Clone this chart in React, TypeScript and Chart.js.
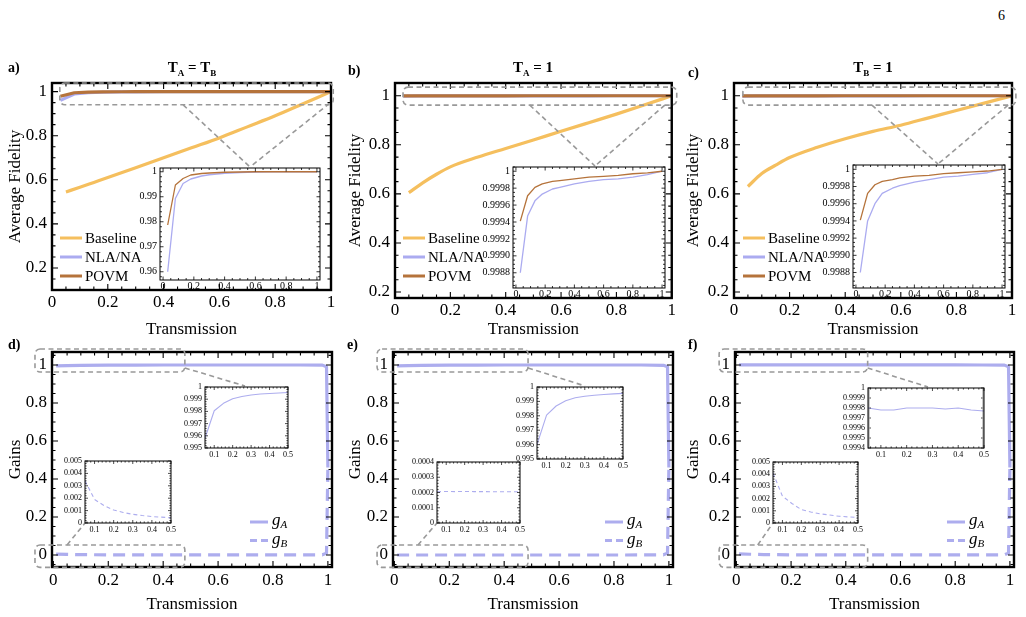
import React, { useEffect, useRef } from "react";
import { Chart, registerables } from "chart.js";
Chart.register(...registerables);

const SERIF = "'Liberation Serif', 'Times New Roman', serif";

// ---------------- DATA ----------------
// top row: baseline fidelity
const T_BASE = [0.05, 0.1, 0.15, 0.2, 0.3, 0.4, 0.5, 0.6, 0.7, 0.8, 0.9, 1.0];
const BASE_A = [0.545, 0.566, 0.588, 0.61, 0.655, 0.7, 0.745, 0.79, 0.84, 0.89, 0.945, 1.0];
const BASE_B = [0.605, 0.645, 0.68, 0.71, 0.75, 0.785, 0.82, 0.855, 0.89, 0.925, 0.962, 1.0];
const BASE_C = [0.63, 0.683, 0.717, 0.748, 0.79, 0.825, 0.855, 0.88, 0.91, 0.94, 0.97, 1.0];
// top row: protocols
const T_PROT = [0.03, 0.08, 0.13, 0.18, 0.25, 0.3, 0.4, 0.5, 0.6, 0.7, 0.8, 0.9, 1.0];
const NLA_A = [0.96, 0.9893, 0.9953, 0.9971, 0.9983, 0.9988, 0.9994, 0.9997, 0.9999, 1.0, 1.0, 1.0, 1.0];
const POVM_A = [0.9787, 0.9947, 0.9973, 0.9987, 0.9993, 0.9995, 0.9998, 0.9999, 1.0, 1.0, 1.0, 1.0, 1.0];
const NLA_B = [0.9988, 0.99947, 0.99965, 0.99973, 0.99979, 0.99981, 0.99985, 0.99988, 0.9999, 0.99991, 0.99993, 0.99996, 1.0];
const POVM_B = [0.99941, 0.99971, 0.99981, 0.99985, 0.99988, 0.99989, 0.99991, 0.99993, 0.99994, 0.99995, 0.99997, 0.99998, 1.0];
const NLA_C = [0.9988, 0.9994, 0.9996, 0.99972, 0.99978, 0.99981, 0.99985, 0.99988, 0.99991, 0.99992, 0.99994, 0.99996, 1.0];
const POVM_C = [0.99941, 0.99972, 0.99982, 0.99986, 0.99988, 0.9999, 0.99992, 0.99993, 0.99995, 0.99996, 0.99997, 0.99998, 1.0];
// bottom row: gains
const T_GAIN = [0.01, 0.05, 0.1, 0.2, 0.3, 0.4, 0.5, 0.6, 0.7, 0.8, 0.9, 0.98, 0.995, 1.0];
const GA_D = [0.995, 0.9962, 0.998, 0.999, 0.9993, 0.9995, 0.9996, 0.9996, 0.9997, 0.9997, 0.9996, 0.999, 0.99, 0.46];
const GB_D = [0.005, 0.0034, 0.0019, 0.0011, 0.0007, 0.0005, 0.0004, 0.0004, 0.0003, 0.0003, 0.0004, 0.001, 0.01, 0.46];
const GA_E = [0.995, 0.9962, 0.998, 0.999, 0.9993, 0.9995, 0.9996, 0.9996, 0.9997, 0.9997, 0.9996, 0.998, 0.99, 0.46];
const GB_E = [0.0002, 0.0002, 0.0002, 0.0002, 0.0002, 0.0002, 0.0002, 0.0002, 0.0002, 0.0002, 0.0003, 0.001, 0.01, 0.46];
const GA_F = [0.9998, 0.9998, 0.9998, 0.9998, 0.9998, 0.9998, 0.9998, 0.9998, 0.9998, 0.9998, 0.9997, 0.999, 0.99, 0.46];
const GB_F = [0.006, 0.0041, 0.0022, 0.0011, 0.00075, 0.00055, 0.00045, 0.0004, 0.0004, 0.0003, 0.0004, 0.001, 0.01, 0.46];
// bottom row: zoomed gains
const T_ZOOM = [0.05, 0.1, 0.15, 0.2, 0.25, 0.3, 0.35, 0.4, 0.45, 0.5];
const GA_D_Z = [0.9958, 0.99805, 0.99866, 0.99903, 0.99922, 0.99934, 0.99942, 0.99947, 0.99951, 0.99955];
const GB_D_Z = [0.0034, 0.0019, 0.0014, 0.00105, 0.00085, 0.0007, 0.0006, 0.00052, 0.00047, 0.00042];
const GA_E_Z = [0.996, 0.99805, 0.99868, 0.99905, 0.99925, 0.99936, 0.99943, 0.99948, 0.99952, 0.99956];
const GB_E_Z = [0.000205, 0.000207, 0.000206, 0.000207, 0.000206, 0.000206, 0.000205, 0.000205, 0.000205, 0.000205];
const GA_F_Z = [0.9998, 0.99978, 0.99978, 0.9998, 0.9998, 0.9998, 0.99979, 0.9998, 0.99978, 0.99977];
const GB_F_Z = [0.0041, 0.0022, 0.0016, 0.0011, 0.0009, 0.00075, 0.00065, 0.00055, 0.0005, 0.00045];

// tick values / labels
const X_TICKS = [0, 0.2, 0.4, 0.6, 0.8, 1];
const X_LABELS = ["0", "0.2", "0.4", "0.6", "0.8", "1"];
const FID_TICKS = [0.2, 0.4, 0.6, 0.8, 1];
const FID_LABELS = ["0.2", "0.4", "0.6", "0.8", "1"];
const GAIN_TICKS = [0, 0.2, 0.4, 0.6, 0.8, 1];
const GAIN_LABELS = ["0", "0.2", "0.4", "0.6", "0.8", "1"];
const INS_X_TICKS = [0, 0.2, 0.4, 0.6, 0.8, 1];
const INS_X_LABELS = ["0", "0.2", "0.4", "0.6", "0.8", "1"];
const INS_A_Y_TICKS = [0.96, 0.97, 0.98, 0.99, 1];
const INS_A_Y_LABELS = ["0.96", "0.97", "0.98", "0.99", "1"];
const INS_BC_Y_TICKS = [0.9988, 0.999, 0.9992, 0.9994, 0.9996, 0.9998, 1];
const INS_BC_Y_LABELS = ["0.9988", "0.9990", "0.9992", "0.9994", "0.9996", "0.9998", "1"];
const Z_X_TICKS = [0.1, 0.2, 0.3, 0.4, 0.5];
const Z_X_LABELS = ["0.1", "0.2", "0.3", "0.4", "0.5"];
const Z_GA_TICKS = [0.995, 0.996, 0.997, 0.998, 0.999, 1];
const Z_GA_LABELS = ["0.995", "0.996", "0.997", "0.998", "0.999", "1"];
const Z_GAF_TICKS = [0.9994, 0.9995, 0.9996, 0.9997, 0.9998, 0.9999, 1];
const Z_GAF_LABELS = ["0.9994", "0.9995", "0.9996", "0.9997", "0.9998", "0.9999", "1"];
const Z_GB_TICKS = [0, 0.001, 0.002, 0.003, 0.004, 0.005];
const Z_GB_LABELS = ["0", "0.001", "0.002", "0.003", "0.004", "0.005"];
const Z_GBE_TICKS = [0, 0.0001, 0.0002, 0.0003, 0.0004];
const Z_GBE_LABELS = ["0", "0.0001", "0.0002", "0.0003", "0.0004"];

// ---------------- STYLE ----------------
const C_BASE = "#F5BF5E";
const C_NLA = "#ABABF0";
const C_POVM = "#B5733B";
const C_GAIN = "#ADADEE";
const C_ZOOM = "#999999";

type Series = { label: string; x: number[]; y: number[]; color: string; width: number; dash?: number[]; order?: number; smooth?: boolean };
type Axis = { min: number; max: number; ticks: number[]; labels: string[]; minor: number; pad: number; title?: string; titlePad?: number };
type Spec = {
  canvas: { left: number; top: number; width: number; height: number };
  area: { l: number; t: number; r: number; b: number };
  x: Axis; y: Axis;
  series: Series[];
  tickFont: number; titleFont?: number;
  frameW: number; majorLen: number; minorLen: number; tickW: number;
  white?: boolean;
  boxes?: { x0: number; x1: number; y0: number; y1: number }[];
  links?: { x: number; y: number; px: number; py: number }[];
  legend?: { kind: "fid" | "gain"; px: number; py: number };
};

function rrect(ctx: any, x0: number, y0: number, x1: number, y1: number, r: number) {
  ctx.beginPath();
  ctx.moveTo(x0 + r, y0);
  ctx.lineTo(x1 - r, y0);
  ctx.arcTo(x1, y0, x1, y0 + r, r);
  ctx.lineTo(x1, y1 - r);
  ctx.arcTo(x1, y1, x1 - r, y1, r);
  ctx.lineTo(x0 + r, y1);
  ctx.arcTo(x0, y1, x0, y1 - r, r);
  ctx.lineTo(x0, y0 + r);
  ctx.arcTo(x0, y0, x0 + r, y0, r);
  ctx.closePath();
}

function minorValues(ax: Axis): number[] {
  const out: number[] = [];
  if (ax.ticks.length < 2) return out;
  const step = (ax.ticks[1] - ax.ticks[0]) / ax.minor;
  for (let k = -200; k <= 200; k++) {
    if (k % ax.minor === 0) continue;
    const v = ax.ticks[0] + k * step;
    if (v >= ax.min - 1e-12 && v <= ax.max + 1e-12) out.push(v);
  }
  return out;
}

function buildConfig(s: Spec): any {
  const cl = s.canvas.left, ct = s.canvas.top;
  const yW = s.area.l - cl;
  const xH = ct + s.canvas.height - s.area.b;
  const padTop = s.area.t - ct;
  const padRight = cl + s.canvas.width - s.area.r;
  const tickFont = { family: SERIF, size: s.tickFont, lineHeight: 1 };
  const titleFont = { family: SERIF, size: s.titleFont || 17 };

  const datasets = s.series.map((se) => ({
    label: se.label,
    data: se.x.map((x, i) => ({ x, y: se.y[i] })),
    borderColor: se.color,
    backgroundColor: se.color,
    borderWidth: se.width,
    borderDash: se.dash || [],
    borderCapStyle: "butt",
    borderJoinStyle: "round",
    pointRadius: 0,
    fill: false,
    tension: 0,
    cubicInterpolationMode: se.smooth ? "monotone" : "default",
    order: se.order ?? 0,
  }));

  const decor = {
    id: "decor",
    beforeDraw(chart: any) {
      if (!s.white) return;
      const { left, right, top, bottom } = chart.chartArea;
      const ctx = chart.ctx;
      ctx.save();
      ctx.fillStyle = "#fff";
      ctx.fillRect(left, top, right - left, bottom - top);
      ctx.restore();
    },
    afterDraw(chart: any) {
      const ctx = chart.ctx;
      const { left, right, top, bottom } = chart.chartArea;
      const xs = chart.scales.x, ys = chart.scales.y;
      ctx.save();
      ctx.strokeStyle = "#000";
      ctx.lineWidth = s.tickW;
      const tickX = (v: number, len: number) => {
        const p = xs.getPixelForValue(v);
        ctx.beginPath();
        ctx.moveTo(p, bottom); ctx.lineTo(p, bottom - len);
        ctx.moveTo(p, top); ctx.lineTo(p, top + len);
        ctx.stroke();
      };
      const tickY = (v: number, len: number) => {
        const p = ys.getPixelForValue(v);
        ctx.beginPath();
        ctx.moveTo(left, p); ctx.lineTo(left + len, p);
        ctx.moveTo(right, p); ctx.lineTo(right - len, p);
        ctx.stroke();
      };
      s.x.ticks.forEach((v) => tickX(v, s.majorLen));
      minorValues(s.x).forEach((v) => tickX(v, s.minorLen));
      s.y.ticks.forEach((v) => tickY(v, s.majorLen));
      minorValues(s.y).forEach((v) => tickY(v, s.minorLen));
      ctx.lineWidth = s.frameW;
      ctx.strokeRect(left, top, right - left, bottom - top);

      if (s.legend) {
        const lx = s.legend.px - cl, ly = s.legend.py - ct;
        if (s.legend.kind === "fid") {
          s.series.forEach((se, i) => {
            const y = ly + i * 19;
            ctx.strokeStyle = se.color;
            ctx.lineWidth = 3;
            ctx.setLineDash([]);
            ctx.beginPath(); ctx.moveTo(lx, y); ctx.lineTo(lx + 22, y); ctx.stroke();
            ctx.fillStyle = "#000";
            ctx.font = `15px ${SERIF}`;
            ctx.textBaseline = "middle";
            ctx.textAlign = "left";
            ctx.fillText(se.label, lx + 25, y + 1);
          });
        } else {
          s.series.forEach((se, i) => {
            const y = ly + i * 18.5;
            ctx.strokeStyle = se.color;
            ctx.lineWidth = 3;
            ctx.setLineDash(se.dash && se.dash.length ? [7, 4] : []);
            ctx.beginPath(); ctx.moveTo(lx, y); ctx.lineTo(lx + 18, y); ctx.stroke();
            ctx.setLineDash([]);
            ctx.fillStyle = "#000";
            ctx.textBaseline = "alphabetic";
            ctx.textAlign = "left";
            const [main, sub] = se.label.split("_");
            ctx.font = `italic 17px ${SERIF}`;
            ctx.fillText(main, lx + 22, y + 3);
            const w = ctx.measureText(main).width;
            ctx.font = `italic 11px ${SERIF}`;
            ctx.fillText(sub, lx + 22 + w, y + 6);
          });
        }
      }

      if (s.boxes || s.links) {
        ctx.strokeStyle = C_ZOOM;
        ctx.lineWidth = 1.6;
        ctx.setLineDash([5, 3.5]);
        (s.boxes || []).forEach((b) => {
          const X0 = xs.getPixelForValue(b.x0), X1 = xs.getPixelForValue(b.x1);
          const Y0 = ys.getPixelForValue(b.y1), Y1 = ys.getPixelForValue(b.y0);
          rrect(ctx, X0, Y0, X1, Y1, 5);
          ctx.stroke();
        });
        (s.links || []).forEach((c) => {
          ctx.beginPath();
          ctx.moveTo(xs.getPixelForValue(c.x), ys.getPixelForValue(c.y));
          ctx.lineTo(c.px - cl, c.py - ct);
          ctx.stroke();
        });
      }
      ctx.restore();
    },
  };

  const axisOpts = (ax: Axis, horizontal: boolean) => ({
    type: "linear",
    position: horizontal ? "bottom" : "left",
    min: ax.min,
    max: ax.max,
    afterBuildTicks: (sc: any) => {
      sc.ticks = ax.ticks.map((v) => ({ value: v }));
    },
    afterFit: (sc: any) => {
      if (horizontal) sc.height = xH;
      else sc.width = yW;
    },
    ticks: {
      autoSkip: false,
      maxRotation: 0,
      minRotation: 0,
      padding: ax.pad,
      color: "#000",
      font: tickFont,
      callback: (_v: any, i: number) => ax.labels[i],
    },
    grid: { display: false, drawTicks: false },
    border: { display: false },
    title: ax.title
      ? {
          display: true,
          text: ax.title,
          color: "#000",
          font: titleFont,
          padding: horizontal ? { top: 0, bottom: ax.titlePad ?? 0 } : { top: ax.titlePad ?? 0, bottom: 0 },
        }
      : { display: false },
  });

  return {
    type: "line",
    data: { datasets },
    options: {
      animation: false,
      responsive: false,
      events: [],
      layout: { padding: { left: 0, top: padTop, right: padRight, bottom: 0 } },
      plugins: { legend: { display: false }, tooltip: { enabled: false }, title: { display: false } },
      scales: { x: axisOpts(s.x, true), y: axisOpts(s.y, false) },
    },
    plugins: [decor],
  };
}

function Plot({ spec }: { spec: Spec }) {
  const ref = useRef<HTMLCanvasElement | null>(null);
  useEffect(() => {
    const chart = new Chart(ref.current as HTMLCanvasElement, buildConfig(spec));
    return () => chart.destroy();
  }, []);
  const c = spec.canvas;
  return (
    <canvas
      ref={ref}
      width={c.width}
      height={c.height}
      style={{ position: "absolute", left: c.left, top: c.top, width: c.width, height: c.height, display: "block" }}
    />
  );
}

// ---------------- SPECS ----------------
const MAIN_STYLE = { tickFont: 17, titleFont: 17, frameW: 2.4, majorLen: 6, minorLen: 3.5, tickW: 1.1 };
const INS_TOP_STYLE = { tickFont: 10, frameW: 1, majorLen: 3.5, minorLen: 2, tickW: 0.8, white: true };
const INS_BOT_STYLE = { tickFont: 8, frameW: 1, majorLen: 3, minorLen: 1.6, tickW: 0.7, white: true };

const fidSeries = (base: number[], nla: number[], povm: number[]): Series[] => [
  { label: "Baseline", x: T_BASE, y: base, color: C_BASE, width: 3.2, order: 3, smooth: true },
  { label: "NLA/NA", x: T_PROT, y: nla, color: C_NLA, width: 3.2, order: 2 },
  { label: "POVM", x: T_PROT, y: povm, color: C_POVM, width: 3.2, order: 1 },
];
const insSeries = (nla: number[], povm: number[]): Series[] => [
  { label: "NLA/NA", x: T_PROT, y: nla, color: C_NLA, width: 1.3, order: 2 },
  { label: "POVM", x: T_PROT, y: povm, color: C_POVM, width: 1.3, order: 1 },
];
const gainSeries = (ga: number[], gb: number[]): Series[] => [
  { label: "g_A", x: T_GAIN, y: ga, color: C_GAIN, width: 3.2, order: 1 },
  { label: "g_B", x: T_GAIN, y: gb, color: C_GAIN, width: 3.2, dash: [12, 7], order: 2 },
];

const topX = (): Axis => ({ min: 0, max: 1, ticks: X_TICKS, labels: X_LABELS, minor: 4, pad: 4, title: "Transmission", titlePad: 0 });
const gainX = (): Axis => ({ min: -0.005, max: 1.015, ticks: X_TICKS, labels: X_LABELS, minor: 4, pad: 5, title: "Transmission", titlePad: 2 });

const SPECS: Spec[] = [
  // a
  {
    ...MAIN_STYLE,
    canvas: { left: 0, top: 40, width: 340, height: 300 },
    area: { l: 52, t: 83, r: 331, b: 290 },
    x: topX(),
    y: { min: 0.1, max: 1.039, ticks: FID_TICKS, labels: FID_LABELS, minor: 4, pad: 5, title: "Average Fidelity", titlePad: 5 },
    series: fidSeries(BASE_A, NLA_A, POVM_A),
    boxes: [{ x0: 0.028, x1: 1.008, y0: 0.94, y1: 1.039 }],
    links: [
      { x: 0.47, y: 0.94, px: 250, py: 167 },
      { x: 0.995, y: 0.947, px: 250, py: 167 },
    ],
    legend: { kind: "fid", px: 60, py: 238 },
  },
  // b
  {
    ...MAIN_STYLE,
    canvas: { left: 340, top: 40, width: 340, height: 300 },
    area: { l: 395, t: 83, r: 672, b: 298 },
    x: topX(),
    y: { min: 0.1755, max: 1.052, ticks: FID_TICKS, labels: FID_LABELS, minor: 4, pad: 5, title: "Average Fidelity", titlePad: 5 },
    series: fidSeries(BASE_B, NLA_B, POVM_B),
    boxes: [{ x0: 0.029, x1: 1.018, y0: 0.962, y1: 1.035 }],
    links: [
      { x: 0.487, y: 0.962, px: 595, py: 166 },
      { x: 0.975, y: 0.962, px: 595, py: 166 },
    ],
    legend: { kind: "fid", px: 403, py: 238 },
  },
  // c
  {
    ...MAIN_STYLE,
    canvas: { left: 680, top: 40, width: 346, height: 300 },
    area: { l: 734, t: 83, r: 1012, b: 298 },
    x: topX(),
    y: { min: 0.1755, max: 1.052, ticks: FID_TICKS, labels: FID_LABELS, minor: 4, pad: 5, title: "Average Fidelity", titlePad: 3 },
    series: fidSeries(BASE_C, NLA_C, POVM_C),
    boxes: [{ x0: 0.032, x1: 1.014, y0: 0.962, y1: 1.035 }],
    links: [
      { x: 0.496, y: 0.962, px: 938, py: 164 },
      { x: 0.986, y: 0.962, px: 938, py: 164 },
    ],
    legend: { kind: "fid", px: 743, py: 238 },
  },
  // d
  {
    ...MAIN_STYLE,
    canvas: { left: 0, top: 310, width: 340, height: 307 },
    area: { l: 52, t: 352, r: 332, b: 567 },
    x: gainX(),
    y: { min: -0.063, max: 1.068, ticks: GAIN_TICKS, labels: GAIN_LABELS, minor: 4, pad: 5, title: "Gains", titlePad: 5 },
    series: gainSeries(GA_D, GB_D),
    boxes: [
      { x0: -0.067, x1: 0.479, y0: 0.963, y1: 1.084 },
      { x0: -0.067, x1: 0.479, y0: -0.065, y1: 0.053 },
    ],
    links: [
      { x: 0.479, y: 0.984, px: 245, py: 386 },
      { x: 0.05, y: 0.053, px: 85, py: 523 },
    ],
    legend: { kind: "gain", px: 250, py: 522 },
  },
  // e
  {
    ...MAIN_STYLE,
    canvas: { left: 340, top: 310, width: 340, height: 307 },
    area: { l: 393, t: 352, r: 673, b: 567 },
    x: gainX(),
    y: { min: -0.063, max: 1.068, ticks: GAIN_TICKS, labels: GAIN_LABELS, minor: 4, pad: 5, title: "Gains", titlePad: 5 },
    series: gainSeries(GA_E, GB_E),
    boxes: [
      { x0: -0.063, x1: 0.487, y0: 0.963, y1: 1.084 },
      { x0: -0.063, x1: 0.487, y0: -0.065, y1: 0.053 },
    ],
    links: [
      { x: 0.487, y: 0.984, px: 585, py: 386 },
      { x: 0.086, y: 0.053, px: 437, py: 523 },
    ],
    legend: { kind: "gain", px: 605, py: 522 },
  },
  // f
  {
    ...MAIN_STYLE,
    canvas: { left: 680, top: 310, width: 346, height: 307 },
    area: { l: 735, t: 352, r: 1014, b: 567 },
    x: gainX(),
    y: { min: -0.063, max: 1.068, ticks: GAIN_TICKS, labels: GAIN_LABELS, minor: 4, pad: 5, title: "Gains", titlePad: 3 },
    series: gainSeries(GA_F, GB_F),
    boxes: [
      { x0: -0.063, x1: 0.48, y0: 0.963, y1: 1.084 },
      { x0: -0.063, x1: 0.48, y0: -0.065, y1: 0.053 },
    ],
    links: [
      { x: 0.48, y: 0.984, px: 928, py: 387 },
      { x: 0.078, y: 0.053, px: 773, py: 523 },
    ],
    legend: { kind: "gain", px: 947, py: 522 },
  },
  // inset a
  {
    ...INS_TOP_STYLE,
    canvas: { left: 126, top: 160, width: 202, height: 138 },
    area: { l: 160, t: 167, r: 320, b: 280 },
    x: { min: -0.02, max: 1.02, ticks: INS_X_TICKS, labels: INS_X_LABELS, minor: 4, pad: 1 },
    y: { min: 0.9567, max: 1.0015, ticks: INS_A_Y_TICKS, labels: INS_A_Y_LABELS, minor: 5, pad: 3 },
    series: insSeries(NLA_A, POVM_A),
  },
  // inset b
  {
    ...INS_TOP_STYLE,
    canvas: { left: 476, top: 159, width: 197, height: 146 },
    area: { l: 513, t: 166, r: 665, b: 288 },
    x: { min: -0.02, max: 1.02, ticks: INS_X_TICKS, labels: INS_X_LABELS, minor: 4, pad: 1 },
    y: { min: 0.99862, max: 1.00005, ticks: INS_BC_Y_TICKS, labels: INS_BC_Y_LABELS, minor: 4, pad: 3 },
    series: insSeries(NLA_B, POVM_B),
  },
  // inset c
  {
    ...INS_TOP_STYLE,
    canvas: { left: 816, top: 157, width: 197, height: 148 },
    area: { l: 853, t: 164, r: 1005, b: 288 },
    x: { min: -0.02, max: 1.02, ticks: INS_X_TICKS, labels: INS_X_LABELS, minor: 4, pad: 1 },
    y: { min: 0.99862, max: 1.00005, ticks: INS_BC_Y_TICKS, labels: INS_BC_Y_LABELS, minor: 4, pad: 3 },
    series: insSeries(NLA_C, POVM_C),
  },
  // inset d upper
  {
    ...INS_BOT_STYLE,
    canvas: { left: 178, top: 380, width: 118, height: 80 },
    area: { l: 205, t: 386, r: 288, b: 448 },
    x: { min: 0.05, max: 0.5, ticks: Z_X_TICKS, labels: Z_X_LABELS, minor: 5, pad: 3 },
    y: { min: 0.995, max: 1.0, ticks: Z_GA_TICKS, labels: Z_GA_LABELS, minor: 5, pad: 3 },
    series: [{ label: "g_A", x: T_ZOOM, y: GA_D_Z, color: C_GAIN, width: 1.1 }],
  },
  // inset d lower
  {
    ...INS_BOT_STYLE,
    canvas: { left: 58, top: 454, width: 121, height: 82 },
    area: { l: 85, t: 460, r: 171, b: 523 },
    x: { min: 0.05, max: 0.5, ticks: Z_X_TICKS, labels: Z_X_LABELS, minor: 5, pad: 3 },
    y: { min: 0, max: 0.005, ticks: Z_GB_TICKS, labels: Z_GB_LABELS, minor: 5, pad: 3 },
    series: [{ label: "g_B", x: T_ZOOM, y: GB_D_Z, color: C_GAIN, width: 1.1, dash: [4, 3] }],
  },
  // inset e upper
  {
    ...INS_BOT_STYLE,
    canvas: { left: 510, top: 380, width: 121, height: 92 },
    area: { l: 537, t: 386, r: 623, b: 459 },
    x: { min: 0.05, max: 0.5, ticks: Z_X_TICKS, labels: Z_X_LABELS, minor: 5, pad: 3 },
    y: { min: 0.995, max: 1.0, ticks: Z_GA_TICKS, labels: Z_GA_LABELS, minor: 5, pad: 3 },
    series: [{ label: "g_A", x: T_ZOOM, y: GA_E_Z, color: C_GAIN, width: 1.1 }],
  },
  // inset e lower
  {
    ...INS_BOT_STYLE,
    canvas: { left: 405, top: 455, width: 123, height: 81 },
    area: { l: 437, t: 461, r: 520, b: 523 },
    x: { min: 0.05, max: 0.5, ticks: Z_X_TICKS, labels: Z_X_LABELS, minor: 5, pad: 3 },
    y: { min: 0, max: 0.0004, ticks: Z_GBE_TICKS, labels: Z_GBE_LABELS, minor: 5, pad: 3 },
    series: [{ label: "g_B", x: T_ZOOM, y: GB_E_Z, color: C_GAIN, width: 1.1, dash: [4, 3] }],
  },
  // inset f upper
  {
    ...INS_BOT_STYLE,
    canvas: { left: 836, top: 381, width: 156, height: 79 },
    area: { l: 868, t: 387, r: 984, b: 448 },
    x: { min: 0.05, max: 0.5, ticks: Z_X_TICKS, labels: Z_X_LABELS, minor: 5, pad: 3 },
    y: { min: 0.9994, max: 1.0, ticks: Z_GAF_TICKS, labels: Z_GAF_LABELS, minor: 5, pad: 3 },
    series: [{ label: "g_A", x: T_ZOOM, y: GA_F_Z, color: C_GAIN, width: 1.1 }],
  },
  // inset f lower
  {
    ...INS_BOT_STYLE,
    canvas: { left: 746, top: 455, width: 120, height: 81 },
    area: { l: 773, t: 461, r: 858, b: 523 },
    x: { min: 0.05, max: 0.5, ticks: Z_X_TICKS, labels: Z_X_LABELS, minor: 5, pad: 3 },
    y: { min: 0, max: 0.005, ticks: Z_GB_TICKS, labels: Z_GB_LABELS, minor: 5, pad: 3 },
    series: [{ label: "g_B", x: T_ZOOM, y: GB_F_Z, color: C_GAIN, width: 1.1, dash: [4, 3] }],
  },
];

const textBase: React.CSSProperties = {
  position: "absolute",
  fontFamily: SERIF,
  color: "#000",
  whiteSpace: "nowrap",
  lineHeight: 1,
};

function Title({ cx, top, children }: { cx: number; top: number; children: React.ReactNode }) {
  return (
    <div style={{ ...textBase, left: cx, top, transform: "translateX(-50%)", fontWeight: "bold", fontSize: 15 }}>
      {children}
    </div>
  );
}
const Sub = ({ children }: { children: React.ReactNode }) => (
  <span style={{ fontSize: 9, position: "relative", top: 4 }}>{children}</span>
);

export default function App() {
  useEffect(() => {
    Chart.defaults.font.family = SERIF;
  }, []);
  return (
    <div style={{ position: "absolute", left: 0, top: 0, width: 1026, height: 617, background: "#fff", overflow: "hidden" }}>
      {SPECS.map((s, i) => (
        <Plot key={i} spec={s} />
      ))}
      <div style={{ ...textBase, left: 998, top: 9, fontSize: 14 }}>6</div>
      <div style={{ ...textBase, left: 8, top: 61, fontSize: 14, fontWeight: "bold" }}>a)</div>
      <div style={{ ...textBase, left: 348, top: 64, fontSize: 14, fontWeight: "bold" }}>b)</div>
      <div style={{ ...textBase, left: 688, top: 66, fontSize: 14, fontWeight: "bold" }}>c)</div>
      <div style={{ ...textBase, left: 8, top: 338, fontSize: 14, fontWeight: "bold" }}>d)</div>
      <div style={{ ...textBase, left: 347, top: 338, fontSize: 14, fontWeight: "bold" }}>e)</div>
      <div style={{ ...textBase, left: 688, top: 338, fontSize: 14, fontWeight: "bold" }}>f)</div>
      <Title cx={192} top={60}>
        T<Sub>A</Sub> = T<Sub>B</Sub>
      </Title>
      <Title cx={533} top={60}>
        T<Sub>A</Sub> = 1
      </Title>
      <Title cx={873} top={60}>
        T<Sub>B</Sub> = 1
      </Title>
    </div>
  );
}
